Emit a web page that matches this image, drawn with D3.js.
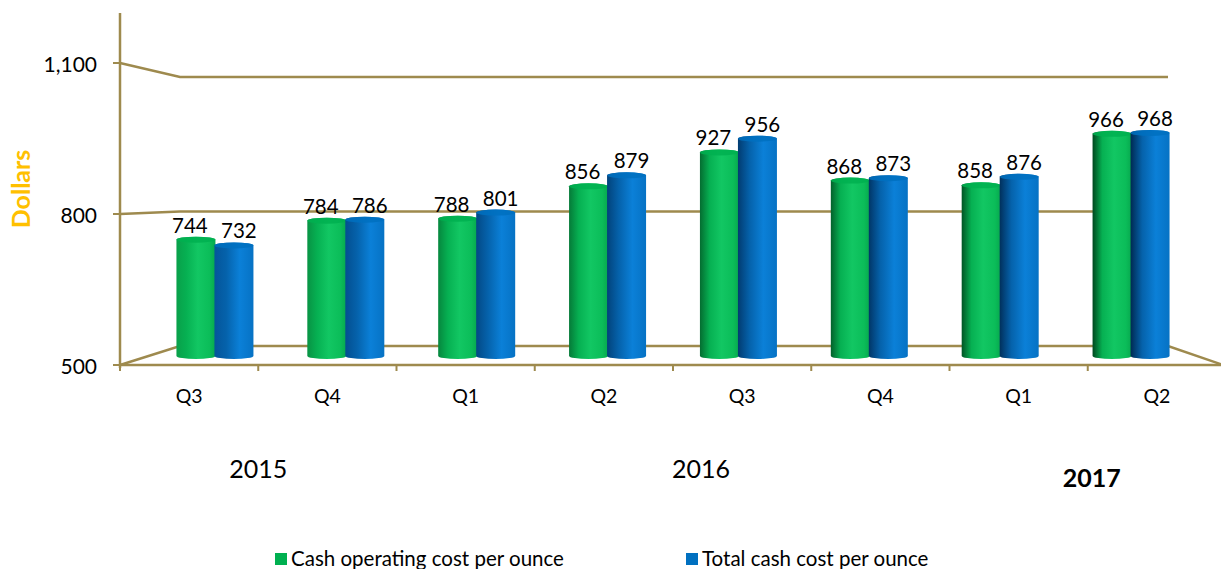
<!DOCTYPE html>
<html lang="en">
<head>
<meta charset="UTF-8">
<title>Cash cost per ounce</title>
<style>
    body { margin: 0; background: #fff; }
    svg { display: block; font-family: Lato, "Open Sans", sans-serif; }
</style>
</head>
<body>
<svg width="1221" height="569"></svg>
<script src="https://cdn.jsdelivr.net/npm/d3@7"></script>
<script>
// quarters from Q3 2015 to Q2 2017
var quarters = ["Q3", "Q4", "Q1", "Q2", "Q3", "Q4", "Q1", "Q2"];
var cashOperating = [744, 784, 788, 856, 927, 868, 858, 966];
var totalCash = [732, 786, 801, 879, 956, 873, 876, 968];
var yTicks = [500, 800, 1100];
var years = ["2015", "2016", "2017"];
var yearSpans = [[0, 1], [2, 5], [6, 7]];
var seriesNames = ["Cash operating cost per ounce", "Total cash cost per ounce"];

var svg = d3.select("svg");
var gridColor = "#9e8a4e";
var defs = svg.append("defs");

// front face, back wall and the depth where the cylinders stand
var yFront = d3.scaleLinear().domain([500, 1100]).range([365, 63]);
var yBack = d3.scaleLinear().domain([500, 1100]).range([346, 77]);
var yBar = d3.scaleLinear().domain([500, 1100]).range([356, 70]);
var backLeft = 180, backRight = 1168;

var xFront = d3.scaleBand().domain(d3.range(quarters.length)).range([120, 1226]);
var xBar = d3.scaleBand().domain(d3.range(quarters.length)).range([150, 1197]);

// floor
svg.append("path")
    .attr("d", "M120," + yFront(500) + "L" + backLeft + "," + yBack(500) +
        "L" + backRight + "," + yBack(500) + "L1226," + (yFront(500) + 1))
    .attr("fill", "none").attr("stroke", gridColor).attr("stroke-width", 2.5);

// gridlines running onto the back wall
svg.selectAll(".grid")
    .data(yTicks.slice(1))
    .enter().append("path")
    .attr("class", "grid")
    .attr("d", function(d) {
        return "M120," + yFront(d) + "L" + backLeft + "," + yBack(d) + "L" + backRight + "," + yBack(d);
    })
    .attr("fill", "none").attr("stroke", gridColor).attr("stroke-width", 2.5);

// gradients for the cylinders, darker on the left further right
var greenDark = d3.interpolateRgb("#09a04a", "#00471f");
var blueDark = d3.interpolateRgb("#04559a", "#002a52");
function makeGrad(id, stops) {
    var gr = defs.append("linearGradient").attr("id", id)
        .attr("x1", "0%").attr("x2", "100%").attr("y1", "0%").attr("y2", "0%");
    stops.forEach(function(s) {
        gr.append("stop").attr("offset", s[0]).attr("stop-color", s[1]);
    });
}
quarters.forEach(function(q, i) {
    var t = i / (quarters.length - 1);
    makeGrad("g" + i, [["0%", greenDark(t)], ["25%", "#06b052"], ["55%", "#12c763"], ["85%", "#0bbd59"], ["100%", "#07a84e"]]);
    makeGrad("b" + i, [["0%", blueDark(t)], ["30%", "#0562ab"], ["65%", "#0b80d8"], ["100%", "#0672c4"]]);
});

var barW = 39, ry = 3;
function cylinder(x, v) {
    var top = yBar(v), bot = yBar(500), r = barW / 2;
    return "M" + x + "," + top +
        "A" + r + "," + ry + " 0 0 1 " + (x + barW) + "," + top +
        "L" + (x + barW) + "," + bot +
        "A" + r + "," + ry + " 0 0 1 " + x + "," + bot + "Z";
}

var series = [
    {values: cashOperating, grad: "g", off: -barW, color: "#00b050", dx: -6},
    {values: totalCash, grad: "b", off: -1, color: "#0070c0", dx: 5}
];

series.forEach(function(s) {
    var bars = svg.append("g");
    bars.selectAll("path")
        .data(s.values)
        .enter().append("path")
        .attr("d", function(d, i) {
            return cylinder(xBar(i) + xBar.bandwidth() / 2 + s.off, d);
        })
        .attr("fill", function(d, i) { return "url(#" + s.grad + i + ")"; });
    // lighter cap
    bars.selectAll("ellipse")
        .data(s.values)
        .enter().append("ellipse")
        .attr("cx", function(d, i) { return xBar(i) + xBar.bandwidth() / 2 + s.off + barW / 2; })
        .attr("cy", function(d) { return yBar(d); })
        .attr("rx", barW / 2).attr("ry", ry)
        .attr("fill", s.color).attr("opacity", 0.85);
});

// value labels
series.forEach(function(s) {
    svg.append("g").selectAll("text")
        .data(s.values)
        .enter().append("text")
        .attr("x", function(d, i) { return xBar(i) + xBar.bandwidth() / 2 + s.off + barW / 2 + s.dx; })
        .attr("y", function(d) { return yBar(d) - 7; })
        .attr("text-anchor", "middle")
        .attr("font-size", 20.5)
        .attr("fill", "#000")
        .text(function(d) { return d; });
});

// y axis
svg.append("line")
    .attr("x1", 120).attr("x2", 120).attr("y1", 13).attr("y2", 368)
    .attr("stroke", gridColor).attr("stroke-width", 2.5);
svg.selectAll(".ytick")
    .data(yTicks)
    .enter().append("line")
    .attr("x1", 113).attr("x2", 120)
    .attr("y1", function(d) { return yFront(d); })
    .attr("y2", function(d) { return yFront(d); })
    .attr("stroke", gridColor).attr("stroke-width", 2);
svg.selectAll(".ylab")
    .data(yTicks)
    .enter().append("text")
    .attr("x", 97)
    .attr("y", function(d) { return yFront(d) + 9; })
    .attr("text-anchor", "end")
    .attr("font-size", 21)
    .text(function(d) { return d3.format(",")(d); });

svg.append("text")
    .attr("transform", "translate(30,189) rotate(-90)")
    .attr("text-anchor", "middle")
    .attr("font-size", 25)
    .attr("font-weight", "bold")
    .attr("fill", "#ffc000")
    .text("Dollars");

// x axis front line and ticks
svg.append("line")
    .attr("x1", 120).attr("x2", 1226).attr("y1", yFront(500)).attr("y2", yFront(500))
    .attr("stroke", gridColor).attr("stroke-width", 2.5);
svg.selectAll(".xtick")
    .data(d3.range(quarters.length + 1))
    .enter().append("line")
    .attr("x1", function(d) { return 120 + d * xFront.step(); })
    .attr("x2", function(d) { return 120 + d * xFront.step(); })
    .attr("y1", yFront(500)).attr("y2", yFront(500) + 6)
    .attr("stroke", gridColor).attr("stroke-width", 2);

svg.selectAll(".qlab")
    .data(quarters)
    .enter().append("text")
    .attr("x", function(d, i) { return xFront(i) + xFront.bandwidth() / 2; })
    .attr("y", 403)
    .attr("text-anchor", "middle")
    .attr("font-size", 19.5)
    .text(function(d) { return d; });

// year labels
var yearNudge = [0, 28, 4];
svg.selectAll(".year")
    .data(years)
    .enter().append("text")
    .attr("x", function(d, i) {
        var s = yearSpans[i];
        return (xFront(s[0]) + xFront(s[1]) + xFront.bandwidth()) / 2 + yearNudge[i];
    })
    .attr("y", function(d, i) { return i === 2 ? 487 : 478; })
    .attr("text-anchor", "middle")
    .attr("font-size", 25)
    .attr("font-weight", function(d, i) { return i === 2 ? "bold" : "normal"; })
    .text(function(d) { return d; });

// legend
var legendX = [275, 686];
var legendColors = ["#00b050", "#0070c0"];
var legend = svg.selectAll(".legend")
    .data(seriesNames)
    .enter().append("g")
    .attr("transform", function(d, i) { return "translate(" + legendX[i] + ",553)"; });
legend.append("rect")
    .attr("width", 12).attr("height", 12)
    .attr("fill", function(d, i) { return legendColors[i]; });
legend.append("text")
    .attr("x", 16).attr("y", 13)
    .attr("font-size", 20.5)
    .text(function(d) { return d; });
</script>
</body>
</html>
